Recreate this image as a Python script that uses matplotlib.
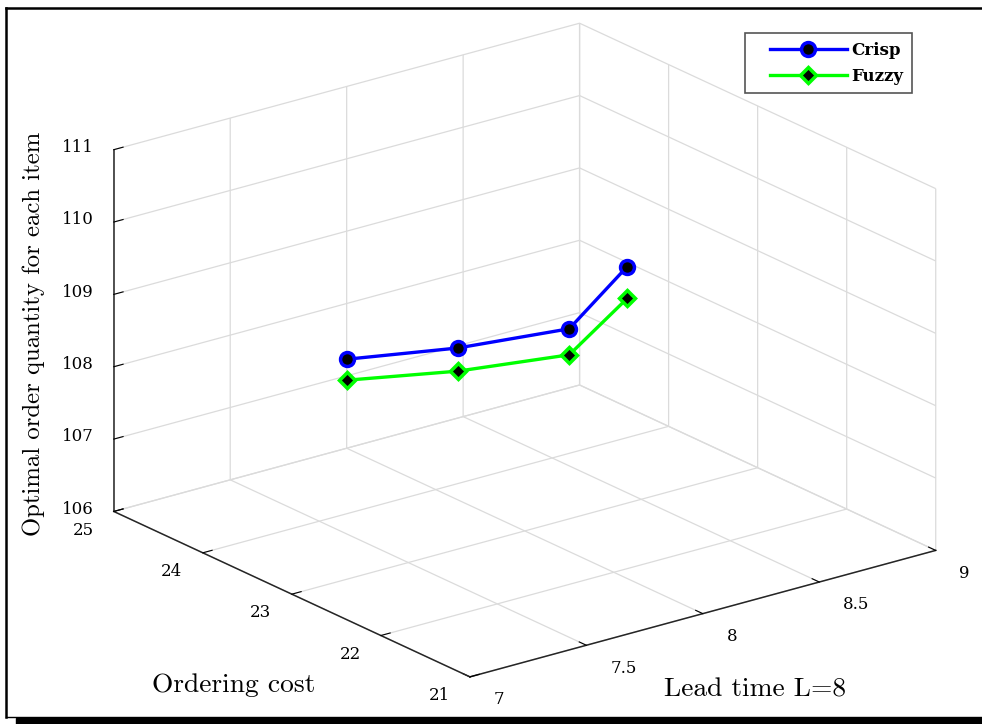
import matplotlib
matplotlib.use("Agg")
import matplotlib.pyplot as plt
from matplotlib.lines import Line2D
from matplotlib.patches import Rectangle
from matplotlib.legend_handler import HandlerLine2D
from matplotlib.transforms import ScaledTranslation

lead_time = [8, 8, 8, 8]
ordering_cost = [25.0, 23.75, 22.5, 21.85]
crisp_q = [107.23, 108.10, 109.08, 110.31]
fuzzy_q = [106.94, 107.78, 108.72, 109.87]

x_ticks = [7, 7.5, 8, 8.5, 9]
y_ticks = [21, 22, 23, 24, 25]
z_ticks = [106, 107, 108, 109, 110, 111]

fig = plt.figure(figsize=(9.82, 7.24), dpi=100)
ax = fig.add_axes([0.0244, 0.003, 1.0, 1.0], projection='3d')
ax.set_proj_type('ortho')
ax.view_init(elev=20.8, azim=-127.4)
ax.set_box_aspect((1, 1, 0.66), zoom=1.227)

l1, = ax.plot(lead_time, ordering_cost, crisp_q, color='#0000ff', lw=2.4,
              marker='o', ms=10, mfc='black', mec='#0000ff', mew=2.5, label='Crisp')
l2, = ax.plot(lead_time, ordering_cost, fuzzy_q, color='#00ff00', lw=2.4,
              marker='D', ms=8, mfc='black', mec='#00ff00', mew=2.5, label='Fuzzy')

ax.set_xlim(7, 9)
ax.set_ylim(21, 25)
ax.set_zlim(106, 111)
ax.set_xticks(x_ticks)
ax.set_yticks(y_ticks)
ax.set_zticks(z_ticks)
ax.set_xticklabels([f'{t:g}' for t in x_ticks])
ax.set_yticklabels([f'{t:g}' for t in y_ticks])
ax.set_zticklabels([f'{t:g}' for t in z_ticks])

ax.tick_params(axis='x', pad=2.5)
ax.tick_params(axis='y', pad=1.5)
ax.tick_params(axis='z', pad=5)


def shift_ticklabels(axis, dx_px, dy_px):
    """Nudge the tick labels of a 3D axis by a fixed pixel offset."""
    orig = axis.get_major_ticks
    off = ScaledTranslation(dx_px / 100, dy_px / 100, fig.dpi_scale_trans)

    def patched(numticks=None):
        ticks = orig(numticks)
        for t in ticks:
            t.label1.set_transform(ax.transData + off)
        return ticks
    axis.get_major_ticks = patched


shift_ticklabels(ax.xaxis, 10, 6)
shift_ticklabels(ax.yaxis, -4, 7)
shift_ticklabels(ax.zaxis, 3, 9)

for axis, ha in ((ax.xaxis, 'left'), (ax.yaxis, 'right'), (ax.zaxis, 'center')):
    axis.set_pane_color((1, 1, 1, 0))
    axis.pane.set_edgecolor((1, 1, 1, 0))
    axis._axinfo['grid'].update(color=(0.86, 0.86, 0.86, 1), linewidth=0.9)
    axis._axinfo['axisline'].update(color='#262626', linewidth=1.1)
    axis._axinfo['tick'].update(inward_factor=0.0, outward_factor=0.25)
    axis.line.set_color('#262626')
    axis.line.set_linewidth(1.1)
    for lab in axis.get_ticklabels():
        lab.set_fontfamily('DejaVu Serif')
        lab.set_fontsize(12)
        lab.set_ha(ha)

ax.set_xlabel('')
ax.set_ylabel('')
ax.set_zlabel('')

lab_kw = dict(fontfamily='cmr10', ha='center', va='center')
fig.text(755 / 982, 1 - 690 / 724, 'Lead time L=8', fontsize=19.8, **lab_kw)
fig.text(234 / 982, 1 - 685 / 724, 'Ordering cost', fontsize=19.8, **lab_kw)
fig.text(34 / 982, 1 - 334 / 724, 'Optimal order quantity for each item',
         rotation=90, fontsize=17.8, **lab_kw)

leg = fig.legend(handles=[l1, l2], loc='upper right',
                 bbox_to_anchor=(0.9287, 0.954), borderaxespad=0,
                 prop={'family': 'DejaVu Serif', 'weight': 'bold', 'size': 12},
                 fancybox=False, edgecolor='#555555', framealpha=1,
                 handlelength=5.6, handletextpad=0.3, borderpad=0.5,
                 labelspacing=0.55,
                 handler_map={Line2D: HandlerLine2D(xpad=1.0)})
leg.get_frame().set_linewidth(1.2)

# figure frame
fig.add_artist(Line2D([0.006, 0.006], [0.0097, 0.989], color='black', lw=1.8,
                      transform=fig.transFigure))
fig.add_artist(Line2D([0.006, 1.0], [0.989, 0.989], color='black', lw=1.8,
                      transform=fig.transFigure))
fig.add_artist(Line2D([0.006, 1.0], [0.0097, 0.0097], color='black', lw=1.0,
                      transform=fig.transFigure))
fig.add_artist(Rectangle((0.016, 0.0), 0.984, 0.0085, color='black',
                         transform=fig.transFigure))

fig.savefig('out.png', dpi=100)
